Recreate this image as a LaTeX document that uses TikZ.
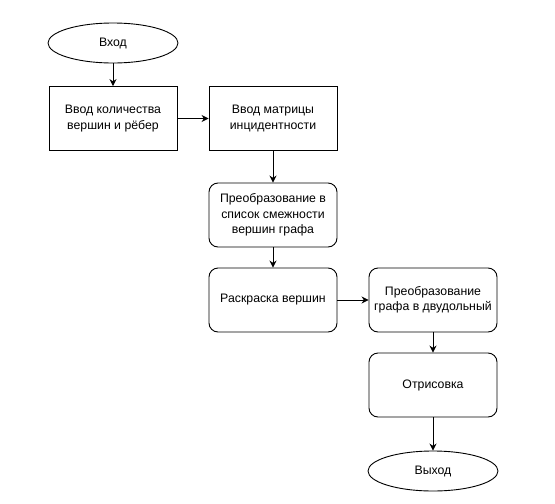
\documentclass[tikz,border=0pt]{standalone}
\usepackage{fontspec}
\setmainfont{Liberation Sans}
\usetikzlibrary{shapes.geometric,arrows.meta}

\begin{document}
\begin{tikzpicture}[x=1pt, y=-1pt,
        every node/.style = {font=\fontsize{12.3}{15.5}\selectfont, align=center},
        terminal/.style = {draw, ellipse, minimum width=130pt, minimum height=40pt, inner sep=0pt},
        block/.style = {draw, rectangle, minimum width=128pt, minimum height=64pt, inner sep=2pt},
        rblock/.style = {block, rounded corners=9pt},
        arrow/.style = {-{Stealth[length=7pt, width=7pt]}}
        ]
        \useasboundingbox (0,0) rectangle (555,504);
        \tikzset{every path/.style={line width=0.9pt}}

        \node[terminal] (vhod) at (113,43) {Вход};
        \node[block] (vvodN) at (113,118.5) {Ввод количества\\вершин и рёбер};
        \node[block] (vvodM) at (273,118.5) {Ввод матрицы\\инцидентности};
        \node[rblock] (spisok) at (273,215) {Преобразование в\\список смежности\\вершин графа};
        \node[rblock] (raskr) at (273,300) {Раскраска вершин};
        \node[rblock] (dvud) at (433,300) {Преобразование\\графа в двудольный};
        \node[rblock] (otris) at (433,385) {Отрисовка};
        \node[terminal] (vyhod) at (433,471) {Выход};

        \draw[arrow] (vhod) -- (vvodN);
        \draw[arrow] (vvodN) -- (vvodM);
        \draw[arrow] (vvodM) -- (spisok);
        \draw[arrow] (spisok) -- (raskr);
        \draw[arrow] (raskr) -- (dvud);
        \draw[arrow] (dvud) -- (otris);
        \draw[arrow] (otris) -- (vyhod);

    \end{tikzpicture}
\end{document}
